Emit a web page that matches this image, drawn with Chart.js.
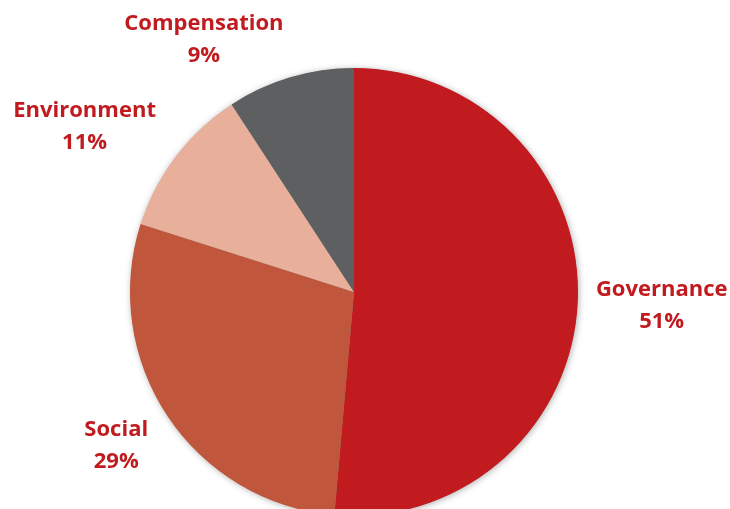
<!DOCTYPE html>
<html>
<head>
<meta charset="utf-8">
<script src="https://cdn.jsdelivr.net/npm/chart.js@4"></script>
<style>
html,body{margin:0;padding:0;background:#fff;overflow:hidden;}
#wrap{width:730px;height:509px;overflow:hidden;position:relative;}
canvas{display:block;}
</style>
</head>
<body>
<div id="wrap"><canvas id="c" width="730" height="540"></canvas></div>
<script>
const categories = ["Governance", "Social", "Environment", "Compensation"];
// slice sizes (labels show them rounded)
const shares = [51.4, 28.5, 10.9, 9.2];
const sliceColors = ["#C11B1F", "#C0563B", "#E8B09A", "#5E5F61"];
const labelColor = "#C11B1F";
// label placement: [radius factor, angle nudge in degrees]
const labelPlacement = [[1.375, 0.0], [1.265, 0.7], [1.41, -5.8], [1.31, -14.2]];

const shadowPlugin = {
  id: 'pieShadow',
  beforeDatasetsDraw(chart) {
    const arc = chart.getDatasetMeta(0).data[0];
    if (!arc) return;
    const ctx = chart.ctx;
    ctx.save();
    ctx.shadowColor = 'rgba(0,0,0,0.35)';
    ctx.shadowBlur = 7;
    ctx.shadowOffsetX = 1;
    ctx.shadowOffsetY = 1;
    ctx.fillStyle = '#888';
    ctx.beginPath();
    ctx.arc(arc.x, arc.y, arc.outerRadius - 0.5, 0, Math.PI * 2);
    ctx.fill();
    ctx.restore();
  }
};

const labelPlugin = {
  id: 'outLabels',
  afterDatasetsDraw(chart) {
    const ctx = chart.ctx;
    const meta = chart.getDatasetMeta(0);
    ctx.save();
    ctx.fillStyle = labelColor;
    ctx.font = "bold 22px 'Open Sans'";
    ctx.textAlign = 'center';
    ctx.textBaseline = 'middle';
    meta.data.forEach((arc, i) => {
      const mid = (arc.startAngle + arc.endAngle) / 2 + labelPlacement[i][1] * Math.PI / 180;
      const r = arc.outerRadius * labelPlacement[i][0];
      const x = arc.x + Math.cos(mid) * r;
      const y = arc.y + Math.sin(mid) * r;
      ctx.fillText(categories[i], x, y - 16);
      ctx.fillText(Math.round(shares[i]) + '%', x, y + 16);
    });
    ctx.restore();
  }
};

new Chart(document.getElementById('c'), {
  type: 'pie',
  data: {
    labels: categories,
    datasets: [{
      data: shares,
      backgroundColor: sliceColors,
      borderWidth: 0
    }]
  },
  options: {
    responsive: false,
    animation: false,
    layout: { padding: { top: 68, bottom: 24, left: 130, right: 152 } },
    plugins: { legend: { display: false }, tooltip: { enabled: false } }
  },
  plugins: [shadowPlugin, labelPlugin]
});
</script>
</body>
</html>
